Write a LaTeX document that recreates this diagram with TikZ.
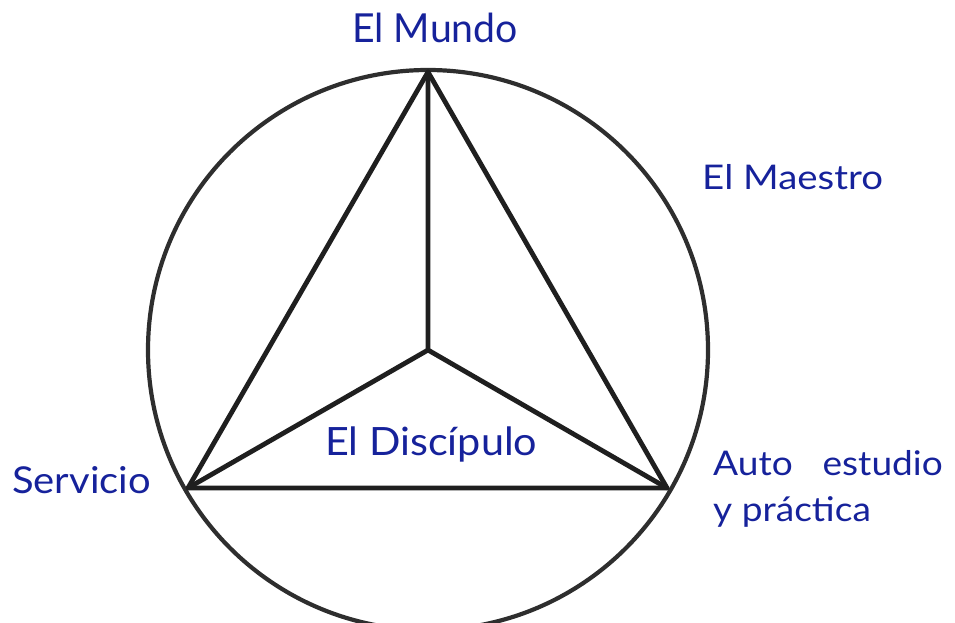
\documentclass[tikz,border=0pt]{standalone}
\usepackage{fontspec}
\setmainfont{Lato}
\definecolor{lbl}{RGB}{22,34,155}
\newcommand{\labfont}[2]{\fontsize{#1}{#1}\selectfont\addfontfeatures{FakeStretch=#2}}
\begin{document}
\begin{tikzpicture}[x=1pt,y=-1pt,
  lab/.style={text=lbl,inner sep=0pt,anchor=base west},
  edge/.style={line width=4.8pt,draw=black!88,line cap=round,line join=round}]
\useasboundingbox (0,0) rectangle (955,623);
\coordinate (c) at (428,350);
\coordinate (t) at (428,72);
\coordinate (l) at (188,488);
\coordinate (r) at (667,488);
\draw[line width=4.2pt,draw=black!82] (c) circle[radius=280];
\draw[edge] (t) -- (l) -- (r) -- cycle;
\draw[edge] (c) -- (t) (c) -- (l) (c) -- (r);
\node[lab,font=\labfont{40}{0.98}] (mundo) at (352,43) {El Mundo};
\node[lab,font=\labfont{34}{1.13}] (maestro) at (702,189) {El Maestro};
\node[lab,font=\labfont{39}{1.06}] (disc) at (325,455) {El Disc\'ipulo};
\node[lab,font=\labfont{37}{1.08}] (serv) at (12,493) {Servicio};
\node[lab,font=\labfont{34}{1.09}] (auto) at (713,475) {Auto\hspace{0.6em} estudio};
\node[lab,font=\labfont{34}{1.09}] (prac) at (713,521) {y pr\'actica};
\end{tikzpicture}
\end{document}
